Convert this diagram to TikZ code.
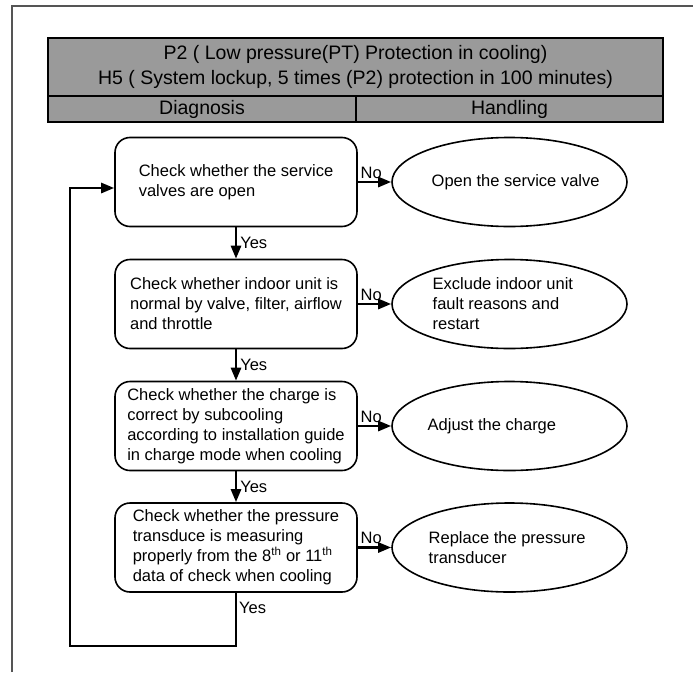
\documentclass[tikz,border=0pt]{standalone}
\usepackage{fontspec}
\setmainfont{Liberation Sans}
\usepackage{tikz}
\usetikzlibrary{shapes.geometric, arrows.meta, positioning, calc}
\usepackage{xcolor}
\definecolor{head-grey}{HTML}{9A9A9A}
\definecolor{frame-grey}{HTML}{555555}
\newcommand{\boxfont}{\fontsize{16.5}{20}\selectfont}
\newcommand{\headfont}{\fontsize{19.5}{25}\selectfont}
\tikzset{
  checkbox/.style={draw=black, line width=1.6pt, rounded corners=15pt,
    minimum width=242pt, minimum height=89pt, align=left, inner sep=0pt,
    font=\boxfont},
  fixbox/.style={ellipse, draw=black, line width=1.6pt,
    minimum width=235pt, minimum height=89pt, inner sep=0pt},
  fixtext/.style={anchor=west, align=left, inner sep=0pt, font=\boxfont},
  flow/.style={line width=2.6pt, -{Triangle[length=13pt, width=10pt]}},
  tag/.style={font=\boxfont, inner sep=2pt}
}

\begin{document}
\begin{tikzpicture}[x=1pt, y=-1pt]
    \useasboundingbox (0,0) rectangle (693,672);
    % ── frame and header
    \draw[frame-grey, line width=1.2pt] (12,672) -- (12,6) -- (693,6);
    \fill[head-grey, draw=black, line width=1.6pt] (48,38) rectangle (663,122);
    \draw[line width=2.4pt] (48,96) -- (663,96);
    \draw[line width=2.4pt] (356,96) -- (356,122);
    \node[font=\headfont, align=center] (title) at (355.5,67)
      {P2 ( Low pressure(PT) Protection in cooling)\\
       H5 ( System lockup, 5 times (P2) protection in 100 minutes)};
    \node[font=\headfont] (diag) at (202,109) {Diagnosis};
    \node[font=\headfont] (hand) at (509.5,109) {Handling};
    % ── diagnosis steps
    \node[checkbox] (b1) at (236,182)
      {Check whether the service\\valves are open};
    \node[checkbox] (b2) at (236,304)
      {Check whether indoor unit is\\normal by valve, filter, airflow\\and throttle};
    \node[checkbox] (b3) at (236,426)
      {Check whether the charge is\\correct by subcooling\\according to installation guide\\in charge mode when cooling};
    \node[checkbox] (b4) at (236,547.5)
      {Check whether the pressure\\transduce is measuring\\properly from the 8\textsuperscript{th} or 11\textsuperscript{th}\\data of check when cooling};
    % ── handling
    \node[fixbox] (e1) at (509.5,182) {};
    \node[fixbox] (e2) at (509.5,304) {};
    \node[fixbox] (e3) at (509.5,426) {};
    \node[fixbox] (e4) at (509.5,547.5) {};
    \node[fixtext] (t1) at ([xshift=-78pt]e1.center) {Open the service valve};
    \node[fixtext] (t2) at ([xshift=-77pt]e2.center) {Exclude indoor unit\\fault reasons and\\restart};
    \node[fixtext] (t3) at ([xshift=-82pt]e3.center) {Adjust the charge};
    \node[fixtext] (t4) at ([xshift=-81pt]e4.center) {Replace the pressure\\transducer};
    % ── connectors
    \foreach \i/\j in {1/2, 2/3, 3/4}
      \draw[flow] (b\i.south) -- node[tag, right, xshift=1pt] {Yes} (b\j.north);
    \foreach \i in {1,...,4}
      \draw[flow] (b\i.east) -- node[tag, above=2.5pt, pos=0.4, inner sep=0pt] {No} (e\i.west);
    \coordinate (loop) at (70,646);
    \draw[flow] (b4.south) |- (loop) |- ($(b1.west)+(0,6)$);
    \node[tag, anchor=west] (yes4) at ($(b4.south)+(1,15)$) {Yes};
\end{tikzpicture}
\end{document}
